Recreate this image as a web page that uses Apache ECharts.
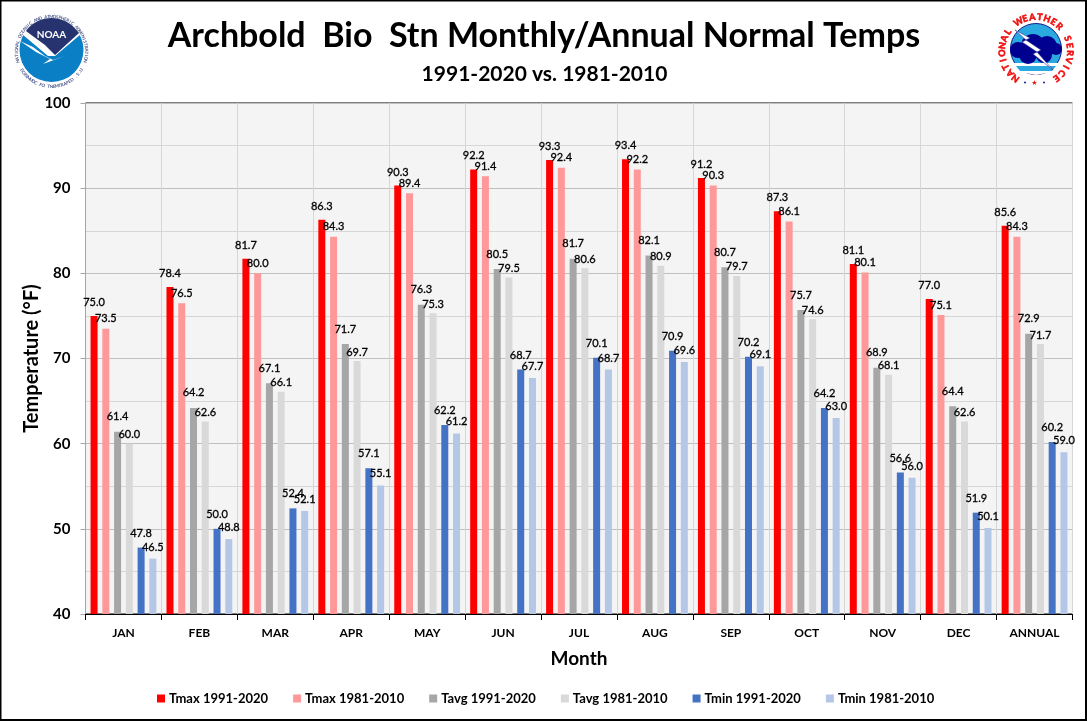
<!DOCTYPE html>
<html>
<head>
<meta charset="utf-8">
<title>Archbold Bio Stn Monthly/Annual Normal Temps</title>
<script src="https://cdn.jsdelivr.net/npm/echarts@6/dist/echarts.min.js"></script>
<style>
    html, body { margin: 0; padding: 0; background: #fff; }
    #chart { width: 1087px; height: 721px; }
</style>
</head>
<body>
<div id="chart"></div>
<script>
const months = ['JAN', 'FEB', 'MAR', 'APR', 'MAY', 'JUN', 'JUL', 'AUG', 'SEP', 'OCT', 'NOV', 'DEC', 'ANNUAL'];
const tmax9120 = [75.0, 78.4, 81.7, 86.3, 90.3, 92.2, 93.3, 93.4, 91.2, 87.3, 81.1, 77.0, 85.6];
const tmax8110 = [73.5, 76.5, 80.0, 84.3, 89.4, 91.4, 92.4, 92.2, 90.3, 86.1, 80.1, 75.1, 84.3];
const tavg9120 = [61.4, 64.2, 67.1, 71.7, 76.3, 80.5, 81.7, 82.1, 80.7, 75.7, 68.9, 64.4, 72.9];
const tavg8110 = [60.0, 62.6, 66.1, 69.7, 75.3, 79.5, 80.6, 80.9, 79.7, 74.6, 68.1, 62.6, 71.7];
const tmin9120 = [47.8, 50.0, 52.4, 57.1, 62.2, 68.7, 70.1, 70.9, 70.2, 64.2, 56.6, 51.9, 60.2];
const tmin8110 = [46.5, 48.8, 52.1, 55.1, 61.2, 67.7, 68.7, 69.6, 69.1, 63.0, 56.0, 50.1, 59.0];

const FONT = 'Lato, "Open Sans", sans-serif';

function barSeries(name, data, color, labelGap) {
    return {
        name: name,
        type: 'bar',
        data: data,
        barWidth: 7,
        barGap: '68%',
        itemStyle: {color: color},
        label: {
            show: true,
            position: 'top',
            distance: labelGap,
            formatter: p => p.value.toFixed(1),
            fontFamily: FONT,
            fontSize: 11,
            color: '#000',
            textBorderColor: '#000',
            textBorderWidth: 0.3
        }
    };
}

// 沿圆弧排字，角度从正上方顺时针算
function ringText(text, cx, cy, r, from, to, color, size, inward, heavy) {
    const step = (to - from) / (text.length - 1);
    return text.split('').map((ch, i) => {
        const deg = from + step * i;
        const a = deg * Math.PI / 180;
        return {
            type: 'text',
            x: cx + r * Math.sin(a),
            y: cy - r * Math.cos(a),
            rotation: (inward ? 180 - deg : -deg) * Math.PI / 180,
            style: {
                text: ch,
                fill: color,
                stroke: heavy ? color : null,
                lineWidth: heavy ? 0.6 : 0,
                font: 'bold ' + size + 'px ' + FONT,
                textAlign: 'center',
                textVerticalAlign: 'middle'
            }
        };
    });
}

function arcPoints(cx, cy, r, from, to, n) {
    const pts = [];
    for (let i = 0; i <= n; i++) {
        const a = (from + (to - from) * i / n) * Math.PI / 180;
        pts.push([cx + r * Math.sin(a), cy - r * Math.cos(a)]);
    }
    return pts;
}

function noaaLogo() {
    const cx = 51.5, cy = 50;
    return [
        {type: 'circle', shape: {cx: cx, cy: cy, r: 32}, style: {fill: '#0a7fc6'}},
        {type: 'polygon', shape: {points: arcPoints(cx, cy, 32.5, -62, 62, 16).concat([[55, 56], [48, 56]])}, style: {fill: '#fff'}},
        {type: 'polygon', shape: {points: arcPoints(cx, cy, 32, -50, 50, 16).concat([[79, 33], [68, 43], [55, 55], [45, 45], [34, 37], [26, 31]])}, style: {fill: '#27336f'}},
        {type: 'polygon', shape: {points: [[20, 41], [33, 47], [45, 56], [53, 60], [65, 56], [43, 64], [50, 59], [36, 52]]}, style: {fill: '#fff'}},
        {type: 'text', x: cx, y: 34.5, style: {text: 'NOAA', fill: '#fff', font: 'bold 10px ' + FONT, textAlign: 'center', textVerticalAlign: 'middle'}}
    ].concat(
        ringText('NATIONAL OCEANIC AND ATMOSPHERIC ADMINISTRATION', cx, 51.5, 35, -106, 106, '#4d5a8c', 4.5, false),
        ringText('U.S. DEPARTMENT OF COMMERCE', cx, 51.5, 35, 122, 238, '#4d5a8c', 4.5, true)
    );
}

function nwsLogo() {
    const cx = 1036, cy = 49;
    return [
        {type: 'circle', shape: {cx: cx, cy: cy, r: 25.5}, style: {fill: '#2aa9e0', stroke: '#1a1a8c', lineWidth: 1}},
        {type: 'polygon', shape: {points: [[1012, 63], [1060, 63], [1052, 72], [1036, 75], [1020, 72]]}, style: {fill: '#fff'}},
        {type: 'polygon', shape: {points: [[1016, 66], [1056, 66], [1052, 71], [1020, 71]]}, style: {fill: '#2aa9e0'}},
        {type: 'circle', shape: {cx: 1018, cy: 50, r: 8}, style: {fill: '#000090'}},
        {type: 'circle', shape: {cx: 1033, cy: 46, r: 12}, style: {fill: '#000090'}},
        {type: 'circle', shape: {cx: 1047, cy: 46, r: 10}, style: {fill: '#000090'}},
        {type: 'circle', shape: {cx: 1056, cy: 49, r: 6}, style: {fill: '#000090'}},
        {type: 'circle', shape: {cx: 1028, cy: 55, r: 9}, style: {fill: '#000090'}},
        {type: 'circle', shape: {cx: 1044, cy: 55, r: 8}, style: {fill: '#000090'}},
        {type: 'polygon', shape: {points: [[1015, 30], [1030, 38], [1026, 40], [1041, 50], [1037, 52], [1053, 70], [1033, 54], [1037, 52], [1022, 42], [1026, 40]]}, style: {fill: '#fff', stroke: '#1a1a8c', lineWidth: 0.5}}
    ].concat(
        ringText('NATIONAL WEATHER SERVICE', cx, 51, 34, -143, 143, '#f01010', 9, false, true),
        [
            {type: 'circle', shape: {cx: 1025, cy: 82.5, r: 1}, style: {fill: '#1a1a8c'}},
            {type: 'circle', shape: {cx: 1044, cy: 82.5, r: 1}, style: {fill: '#1a1a8c'}},
            {type: 'text', x: 1034.5, y: 83, style: {text: '★', fill: '#f01010', font: '7px "DejaVu Sans"', textAlign: 'center', textVerticalAlign: 'middle'}}
        ]
    );
}

const chart = echarts.init(document.getElementById('chart'));

chart.setOption({
    backgroundColor: '#fff',
    animation: false,
    title: [
        {
            text: 'Archbold  Bio  Stn Monthly/Annual Normal Temps',
            left: 539, top: 14, textAlign: 'center',
            textStyle: {fontFamily: FONT, fontSize: 34, fontWeight: 'bold', color: '#000'}
        },
        {
            text: '1991-2020 vs. 1981-2010',
            left: 539.5, top: 59, textAlign: 'center',
            textStyle: {fontFamily: FONT, fontSize: 21, fontWeight: 'bold', color: '#000'}
        }
    ],
    legend: {
        left: 152, top: 687,
        icon: 'rect',
        itemWidth: 8,
        itemHeight: 8,
        itemGap: 25,
        textStyle: {fontFamily: FONT, fontSize: 13, fontWeight: 'bold', color: '#000', padding: [0, 0, 0, -1]}
    },
    grid: {
        left: 85.5, top: 103, width: 987, height: 511,
        show: true,
        backgroundColor: '#f4f4f4',
        borderColor: '#000',
        borderWidth: 1
    },
    xAxis: {
        type: 'category',
        data: months,
        name: 'Month',
        nameLocation: 'middle',
        nameGap: 35,
        nameTextStyle: {fontFamily: FONT, fontSize: 19, fontWeight: 'bold', color: '#000'},
        axisLine: {lineStyle: {color: '#000', width: 1}},
        axisTick: {show: true, length: 6, alignWithLabel: false, lineStyle: {color: '#000'}},
        axisLabel: {fontFamily: FONT, fontSize: 12, fontWeight: 'bold', color: '#000', margin: 13, interval: 0},
        splitLine: {show: true, lineStyle: {color: '#d6d6d6', width: 1}}
    },
    yAxis: {
        type: 'value',
        min: 40, max: 100, interval: 10,
        name: 'Temperature (°F)',
        nameLocation: 'middle',
        nameGap: 44,
        nameMoveOverlap: false,
        nameTextStyle: {fontFamily: FONT, fontSize: 20, fontWeight: 'bold', color: '#000'},
        axisLine: {show: true, lineStyle: {color: '#a6a6a6', width: 1}},
        axisTick: {show: true, length: 5, lineStyle: {color: '#a6a6a6'}},
        minorTick: {show: false, splitNumber: 2},
        minorSplitLine: {show: true, lineStyle: {color: '#d6d6d6', width: 1}},
        axisLabel: {fontFamily: FONT, fontSize: 15, fontWeight: 'bold', color: '#000', margin: 15},
        splitLine: {show: true, lineStyle: {color: '#bfbfbf', width: 1}}
    },
    series: [
        barSeries('Tmax 1991-2020', tmax9120, '#ff0000', 8),
        barSeries('Tmax 1981-2010', tmax8110, '#ff9999', 4.5),
        barSeries('Tavg 1991-2020', tavg9120, '#a6a6a6', 9.5),
        barSeries('Tavg 1981-2010', tavg8110, '#d9d9d9', 3.5),
        barSeries('Tmin 1991-2020', tmin9120, '#4472c4', 9),
        barSeries('Tmin 1981-2010', tmin8110, '#b4c7e7', 6)
    ],
    graphic: {
        elements: [
            {type: 'rect', shape: {x: 0.5, y: 0.5, width: 1085.5, height: 719.5}, style: {fill: 'none', stroke: '#000', lineWidth: 2}, z: 100},
            {type: 'group', children: noaaLogo()},
            {type: 'group', children: nwsLogo()}
        ]
    }
});
</script>
</body>
</html>
